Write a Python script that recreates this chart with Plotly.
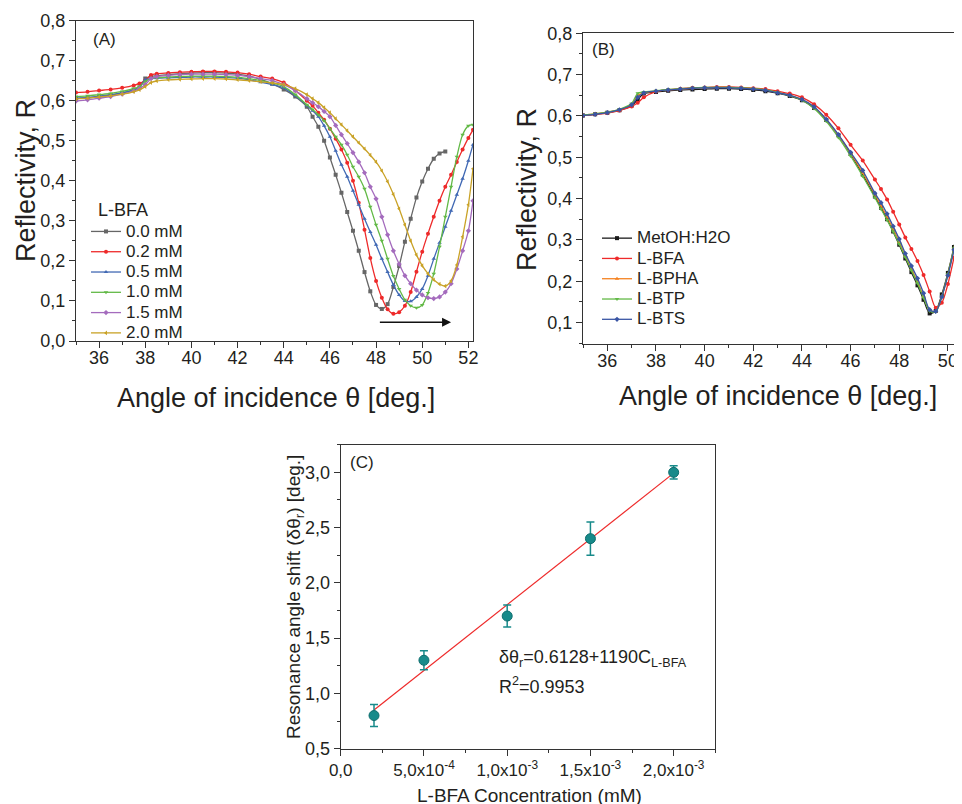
import plotly.graph_objects as go

# ---------------- Panel A data (L-BFA concentration series) ----------------
ANGLE_A = [35, 35.5, 36, 36.5, 37, 37.5, 37.75, 38, 38.25, 38.5,
           39, 39.5, 40, 40.5, 41, 41.5, 42, 42.5, 43, 43.5,
           44, 44.5, 45, 45.25, 45.5, 45.75, 46, 46.25, 46.5, 46.75,
           47, 47.25, 47.5, 47.75, 48, 48.25, 48.5, 48.75, 49, 49.25,
           49.5, 49.75, 50, 50.25, 50.5, 50.75, 51, 51.25, 51.5, 51.75,
           52, 52.2]

R_00 = [0.605, 0.607, 0.610, 0.614, 0.619, 0.627, 0.633, 0.655, 0.660, 0.662,
        0.665, 0.667, 0.669, 0.670, 0.670, 0.669, 0.666, 0.661, 0.653, 0.642,
        0.628, 0.610, 0.585, 0.560, 0.535, 0.500, 0.458, 0.415, 0.370, 0.322,
        0.275, 0.225, 0.172, 0.124, 0.090, 0.080, 0.092, 0.135, 0.187, 0.248,
        0.305, 0.358, 0.398, 0.430, 0.455, 0.468, 0.473, None, None, None,
        None, None]
R_02 = [0.620, 0.622, 0.625, 0.628, 0.632, 0.638, 0.643, 0.650, 0.664, 0.667,
        0.669, 0.671, 0.672, 0.673, 0.673, 0.672, 0.670, 0.666, 0.660, 0.655,
        0.645, 0.625, 0.600, 0.587, 0.570, 0.552, 0.530, 0.505, 0.478, 0.445,
        0.400, 0.345, 0.278, 0.207, 0.150, 0.108, 0.079, 0.068, 0.072, 0.088,
        0.122, 0.173, 0.223, 0.268, 0.310, 0.350, 0.385, 0.415, 0.447, 0.478,
        0.507, 0.527]
R_05 = [0.606, 0.608, 0.611, 0.615, 0.620, 0.627, 0.633, 0.652, 0.655, 0.656,
        0.657, 0.658, 0.659, 0.659, 0.659, 0.658, 0.656, 0.652, 0.646, 0.640,
        0.632, 0.612, 0.588, 0.575, 0.560, 0.537, 0.510, 0.475, 0.440, 0.410,
        0.375, 0.340, 0.305, 0.272, 0.240, 0.205, 0.172, 0.140, 0.115, 0.100,
        0.099, 0.110, 0.130, 0.163, 0.205, 0.245, 0.285, 0.325, 0.365, 0.405,
        0.450, 0.490]
R_10 = [0.610, 0.612, 0.615, 0.618, 0.623, 0.630, 0.635, 0.648, 0.655, 0.657,
        0.659, 0.660, 0.661, 0.661, 0.661, 0.660, 0.658, 0.655, 0.650, 0.644,
        0.635, 0.615, 0.590, 0.578, 0.565, 0.550, 0.530, 0.510, 0.490, 0.465,
        0.435, 0.410, 0.380, 0.335, 0.290, 0.250, 0.205, 0.162, 0.130, 0.103,
        0.088, 0.083, 0.090, 0.120, 0.168, 0.235, 0.310, 0.385, 0.460, 0.515,
        0.537, 0.540]
R_15 = [0.599, 0.602, 0.606, 0.610, 0.616, 0.624, 0.630, 0.640, 0.655, 0.660,
        0.663, 0.665, 0.666, 0.666, 0.666, 0.665, 0.663, 0.660, 0.655, 0.650,
        0.640, 0.625, 0.605, 0.595, 0.585, 0.573, 0.560, 0.538, 0.515, 0.493,
        0.470, 0.447, 0.420, 0.385, 0.355, 0.310, 0.265, 0.225, 0.192, 0.163,
        0.143, 0.127, 0.115, 0.108, 0.106, 0.110, 0.122, 0.143, 0.180, 0.225,
        0.275, 0.350]
R_20 = [0.604, 0.606, 0.609, 0.612, 0.616, 0.622, 0.627, 0.635, 0.645, 0.649,
        0.652, 0.653, 0.654, 0.655, 0.655, 0.654, 0.652, 0.650, 0.647, 0.644,
        0.640, 0.630, 0.615, 0.605, 0.595, 0.583, 0.570, 0.555, 0.540, 0.525,
        0.510, 0.495, 0.480, 0.464, 0.447, 0.425, 0.398, 0.366, 0.330, 0.290,
        0.250, 0.215, 0.188, 0.168, 0.153, 0.142, 0.137, 0.150, 0.190, 0.260,
        0.340, 0.430]
NAMES_A = ["0.0 mM", "0.2 mM", "0.5 mM", "1.0 mM", "1.5 mM", "2.0 mM"]

# ---------------- Panel B data (different analytes) ----------------
ANGLE_B = [35, 35.5, 36, 36.5, 37, 37.25, 37.5, 38, 38.5, 39,
           39.5, 40, 40.5, 41, 41.5, 42, 42.5, 43, 43.5, 44,
           44.5, 45, 45.5, 46, 46.5, 47, 47.25, 47.5, 47.75, 48,
           48.25, 48.5, 48.75, 49, 49.25, 49.5, 49.75, 50, 50.25, 50.5,
           50.6]
R_METOH = [0.601, 0.604, 0.608, 0.614, 0.625, 0.640, 0.654, 0.658, 0.661, 0.663,
           0.664, 0.665, 0.666, 0.666, 0.665, 0.663, 0.660, 0.655, 0.648, 0.638,
           0.619, 0.590, 0.553, 0.508, 0.458, 0.405, 0.378, 0.350, 0.320, 0.288,
           0.255, 0.222, 0.190, 0.155, 0.122, 0.128, 0.168, 0.220, 0.283, 0.357,
           0.390]
R_BFA = [0.601, 0.604, 0.607, 0.613, 0.623, 0.632, 0.645, 0.659, 0.663, 0.666,
         0.668, 0.669, 0.670, 0.670, 0.669, 0.667, 0.665, 0.660, 0.654, 0.645,
         0.628, 0.603, 0.570, 0.530, 0.492, 0.446, 0.423, 0.398, 0.368, 0.337,
         0.306, 0.278, 0.249, 0.215, 0.175, 0.136, 0.148, 0.193, 0.257, 0.330,
         0.362]
R_BPHA = [0.602, 0.605, 0.609, 0.615, 0.628, 0.650, 0.656, 0.660, 0.663, 0.665,
          0.667, 0.668, 0.669, 0.669, 0.668, 0.666, 0.663, 0.657, 0.650, 0.640,
          0.621, 0.590, 0.553, 0.510, 0.462, 0.410, 0.383, 0.356, 0.327, 0.295,
          0.262, 0.230, 0.199, 0.163, 0.130, 0.127, 0.163, 0.216, 0.279, 0.354,
          0.388]
R_BTP = [0.602, 0.605, 0.609, 0.616, 0.630, 0.655, 0.658, 0.661, 0.664, 0.666,
         0.668, 0.669, 0.669, 0.669, 0.668, 0.666, 0.663, 0.657, 0.649, 0.638,
         0.618, 0.587, 0.548, 0.503, 0.454, 0.402, 0.375, 0.348, 0.320, 0.290,
         0.258, 0.226, 0.195, 0.160, 0.128, 0.126, 0.163, 0.217, 0.280, 0.355,
         0.390]
R_BTS = [0.601, 0.604, 0.608, 0.615, 0.627, 0.645, 0.656, 0.660, 0.663, 0.665,
         0.667, 0.668, 0.668, 0.668, 0.667, 0.665, 0.662, 0.656, 0.650, 0.640,
         0.622, 0.592, 0.555, 0.512, 0.468, 0.413, 0.390, 0.363, 0.333, 0.302,
         0.267, 0.237, 0.207, 0.171, 0.131, 0.127, 0.162, 0.214, 0.276, 0.352,
         0.385]
NAMES_B = ["MetOH:H2O", "L-BFA", "L-BPHA", "L-BTP", "L-BTS"]

# ---------------- Panel C data (calibration) ----------------
CONC = [2e-4, 5e-4, 1e-3, 1.5e-3, 2e-3]
SHIFT = [0.8, 1.3, 1.7, 2.4, 3.0]
SHIFT_ERR = [0.1, 0.085, 0.1, 0.15, 0.06]
FIT_INTERCEPT = 0.6128
FIT_SLOPE = 1190
C_TICKVALS = [0, 5e-4, 1e-3, 1.5e-3, 2e-3]
C_TICKTEXT = ["0,0", "5,0x10<sup>-4</sup>", "1,0x10<sup>-3</sup>",
              "1,5x10<sup>-3</sup>", "2,0x10<sup>-3</sup>"]
C_MINORVALS = [2.5e-4, 7.5e-4, 1.25e-3, 1.75e-3, 2.25e-3]

# the page body has an 8px margin; the figure fills the rest of the window
OFF = 8
W, H = 962 - OFF, 804 - OFF
FONT = "Liberation Sans, Arial, sans-serif"
TXT = "#231f20"


def px(x):
    return (x - OFF) / W


def py(y):
    return 1 - (y - OFF) / H


def big(t, size=17):
    return '<span style="font-size:%dpx">%s</span>' % (size, t)


fig = go.Figure()

colors_a = ["#666666", "#ee2a2a", "#4169b4", "#62b946", "#a46bbd", "#c9a227"]
symbols_a = ["square", "circle", "triangle-up", "triangle-down", "diamond", "triangle-left"]
series_a = [R_00, R_02, R_05, R_10, R_15, R_20]
for name, ys, c, s in zip(NAMES_A, series_a, colors_a, symbols_a):
    fig.add_trace(go.Scatter(
        x=ANGLE_A, y=ys, name=big(name), mode="lines+markers",
        line=dict(color=c, width=1.3, shape="spline", smoothing=0.8),
        marker=dict(color=c, size=4, symbol=s),
        xaxis="x", yaxis="y", legend="legend"))

colors_b = ["#1a1a1a", "#ee2a2a", "#f58220", "#62b946", "#3a55a4"]
symbols_b = ["square", "circle", "triangle-up", "triangle-down", "diamond"]
series_b = [R_METOH, R_BFA, R_BPHA, R_BTP, R_BTS]
for name, ys, c, s in zip(NAMES_B, series_b, colors_b, symbols_b):
    fig.add_trace(go.Scatter(
        x=ANGLE_B, y=ys, name=big(name), mode="lines+markers",
        line=dict(color=c, width=1.3, shape="spline", smoothing=0.8),
        marker=dict(color=c, size=4, symbol=s),
        xaxis="x2", yaxis="y2", legend="legend2"))

fit_x = [CONC[0], CONC[-1]]
fit_y = [FIT_INTERCEPT + FIT_SLOPE * v for v in fit_x]
fig.add_trace(go.Scatter(
    x=fit_x, y=fit_y, mode="lines", line=dict(color="#ee2a2a", width=1.2),
    xaxis="x3", yaxis="y3", showlegend=False))
fig.add_trace(go.Scatter(
    x=CONC, y=SHIFT, mode="markers",
    marker=dict(color="#178a8a", size=10, line=dict(color="#0f6e6e", width=1)),
    error_y=dict(type="data", array=SHIFT_ERR, color="#178a8a", thickness=1.5, width=4),
    xaxis="x3", yaxis="y3", showlegend=False))


def axis_common(size=18):
    return dict(showline=True, linecolor="#333333", linewidth=1, ticks="outside",
                ticklen=6, tickcolor="#333333", showgrid=False, zeroline=False,
                automargin=False,
                tickfont=dict(family=FONT, size=size, color=TXT))


fig.update_layout(
    template="none",
    width=W, height=H, margin=dict(l=0, r=0, t=0, b=0, autoexpand=False),
    paper_bgcolor="white", plot_bgcolor="white",
    separators=",.",
    font=dict(family=FONT, color=TXT),
    xaxis=dict(domain=[px(76), px(473)], range=[35, 52.2], tick0=36, dtick=2,
               mirror=True, anchor="y", ticklabelstandoff=-6,
               minor=dict(ticks="outside", ticklen=3, dtick=1, tickcolor="#333333"),
               **axis_common(18)),
    yaxis=dict(domain=[py(341), py(20.5)], range=[0, 0.8], dtick=0.1, tickformat=".1f",
               mirror=True, anchor="x",
               minor=dict(ticks="outside", ticklen=3, dtick=0.05, tickcolor="#333333"),
               **axis_common(18)),
    xaxis2=dict(domain=[px(583), 1.0], range=[35, 50.58], tick0=36, dtick=2,
                mirror=True, anchor="y2", ticklabelstandoff=-6,
                minor=dict(ticks="outside", ticklen=3, dtick=1, tickcolor="#333333"),
                **axis_common(18)),
    yaxis2=dict(domain=[py(344), py(33.3)], range=[0.048, 0.8], tick0=0, dtick=0.1,
                tickformat=".1f", mirror=False, anchor="x2",
                minor=dict(ticks="outside", ticklen=3, dtick=0.05, tickcolor="#333333"),
                **axis_common(18)),
    xaxis3=dict(domain=[px(340.7), px(715.3)], range=[0, 2.25e-3],
                tickmode="array", tickvals=C_TICKVALS, ticktext=C_TICKTEXT,
                mirror=True, anchor="y3",
                minor=dict(ticks="outside", ticklen=3, tickvals=C_MINORVALS, tickcolor="#333333"),
                **axis_common(17)),
    yaxis3=dict(domain=[py(748.7), py(444.7)], range=[0.5, 3.25], dtick=0.5,
                tickformat=".1f", mirror=True, anchor="x3",
                minor=dict(ticks="outside", ticklen=3, dtick=0.25, tickcolor="#333333"),
                **axis_common(18)),
    legend=dict(x=px(86), y=py(199), xanchor="left", yanchor="top",
                bgcolor="rgba(0,0,0,0)", tracegroupgap=0, borderwidth=0,
                title=dict(text=big("  L-BFA", 18), font=dict(family=FONT, size=13.3, color=TXT)),
                font=dict(family=FONT, size=13.3, color=TXT)),
    legend2=dict(x=px(597), y=py(223), xanchor="left", yanchor="top",
                 bgcolor="rgba(0,0,0,0)", tracegroupgap=0, borderwidth=0,
                 font=dict(family=FONT, size=13.3, color=TXT)),
)

ann = []


def add_text(text, x, y, size, angle=0, xanchor="center"):
    ann.append(dict(text=text, x=px(x), y=py(y), xref="paper", yref="paper",
                    showarrow=False, textangle=angle, xanchor=xanchor, yanchor="middle",
                    font=dict(family=FONT, size=size, color=TXT)))


add_text("Reflectivity, R", 26, 181, 27, -90)
add_text("Angle of incidence θ [deg.]", 276, 398, 27)
add_text("Reflectivity, R", 527, 190, 27, -90)
add_text("Angle of incidence θ [deg.]", 778, 396, 27)
add_text("Resonance angle shift (δθ<sub>r</sub>) [deg.]", 295, 597, 19, -90)
add_text("L-BFA Concentration (mM)", 529, 795, 19)
add_text("(A)", 104, 40, 17)
add_text("(B)", 603, 50, 17)
add_text("(C)", 362, 463, 17)
add_text("δθ<sub>r</sub>=0.6128+1190C<sub>L-BFA</sub>", 497, 658, 18, xanchor="left")
add_text("R<sup>2</sup>=0.9953", 497, 685, 18, xanchor="left")

# arrow showing resonance shift direction in panel A
ann.append(dict(x=51.25, y=0.047, ax=48.1, ay=0.047, xref="x", yref="y",
                axref="x", ayref="y", showarrow=True, arrowhead=2, arrowsize=1.2,
                arrowwidth=1.5, arrowcolor="#111111", text=""))

fig.update_layout(annotations=ann)

fig.write_html("out.html")
